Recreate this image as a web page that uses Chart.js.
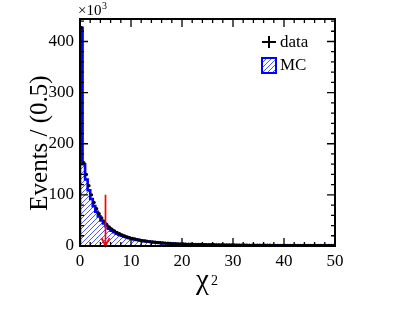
<!DOCTYPE html>
<html>
<head>
<meta charset="utf-8">
<script src="https://cdn.jsdelivr.net/npm/chart.js@4/dist/chart.umd.min.js"></script>
<style>
  html, body { margin: 0; padding: 0; background: #fff; }
  #wrap { width: 399px; height: 309px; }
</style>
</head>
<body>
<div id="wrap"><canvas id="chart" width="399" height="309"></canvas></div>
<script>
// chi2 histogram, bins of 0.5, counts in units of 10^3
const BIN_WIDTH = 0.5;

const DATA_COUNTS = [
  427, 163, 140, 118, 100, 85, 73, 63, 55, 48,
  42, 37, 33, 29.5, 26.5, 24, 21.5, 19.5, 17.8, 16.2,
  14.8, 13.6, 12.5, 11.5, 10.6, 9.8, 9.1, 8.4, 7.8, 7.3,
  6.8, 6.4, 6.0, 5.6, 5.3, 5.0, 4.7, 4.5, 4.2, 4.0,
  3.8, 3.6, 3.45, 3.3, 3.15, 3.0, 2.9, 2.8, 2.7, 2.6,
  2.5, 2.42, 2.35, 2.28, 2.2, 2.14, 2.08, 2.02, 1.96, 1.9,
  1.85, 1.8, 1.76, 1.72, 1.68, 1.64, 1.6, 1.56, 1.52, 1.49,
  1.46, 1.43, 1.4, 1.37, 1.34, 1.31, 1.28, 1.26, 1.24, 1.22,
  1.2, 1.18, 1.16, 1.14, 1.12, 1.1, 1.08, 1.06, 1.04, 1.02,
  1.0, 0.98, 0.96, 0.95, 0.94, 0.93, 0.92, 0.91, 0.9, 0.89
];

const MC_COUNTS = [
  427, 160, 130, 109, 92, 78, 67, 58, 50, 44,
  38.5, 34, 30, 27, 24.2, 22, 20, 18.2, 16.6, 15.2,
  14, 12.9, 11.9, 11, 10.2, 9.5, 8.8, 8.2, 7.6, 7.1,
  6.6, 6.2, 5.8, 5.4, 5.1, 4.8, 4.55, 4.3, 4.05, 3.85,
  3.65, 3.5, 3.35, 3.2, 3.05, 2.92, 2.82, 2.72, 2.62, 2.52,
  2.43, 2.35, 2.28, 2.21, 2.14, 2.08, 2.02, 1.96, 1.9, 1.85,
  1.8, 1.76, 1.72, 1.68, 1.64, 1.6, 1.56, 1.52, 1.49, 1.46,
  1.43, 1.4, 1.37, 1.34, 1.31, 1.28, 1.26, 1.24, 1.22, 1.2,
  1.18, 1.16, 1.14, 1.12, 1.1, 1.08, 1.06, 1.04, 1.02, 1.0,
  0.98, 0.96, 0.95, 0.94, 0.93, 0.92, 0.91, 0.9, 0.89, 0.88
];

const X_TICKS = [0, 10, 20, 30, 40, 50];
const Y_TICKS = [0, 100, 200, 300, 400];
const X_MIN = 0, X_MAX = 50, Y_MIN = 0, Y_MAX = 444;

// selection cut arrow
const CUT_X = 5;
const CUT_TOP = 100;

const FONT = "'Liberation Serif', 'Times New Roman', serif";
const BLUE = '#0000ff';
Chart.defaults.font.family = FONT;

function hatchPattern() {
  const s = 5;
  const c = document.createElement('canvas');
  c.width = s; c.height = s;
  const g = c.getContext('2d');
  g.strokeStyle = 'rgba(30,50,255,0.9)';
  g.lineWidth = 0.9;
  g.beginPath();
  g.moveTo(0, s); g.lineTo(s, 0);
  g.moveTo(-1, 1); g.lineTo(1, -1);
  g.moveTo(s - 1, s + 1); g.lineTo(s + 1, s - 1);
  g.stroke();
  return document.getElementById('chart').getContext('2d').createPattern(c, 'repeat');
}

const HATCH = hatchPattern();

// step outline of the MC histogram
const mcLine = [{ x: 0, y: 0 }];
MC_COUNTS.forEach((v, i) => mcLine.push({ x: i * BIN_WIDTH, y: v }));
mcLine.push({ x: MC_COUNTS.length * BIN_WIDTH, y: MC_COUNTS[MC_COUNTS.length - 1] });
mcLine.push({ x: MC_COUNTS.length * BIN_WIDTH, y: 0 });

const dataPoints = DATA_COUNTS.map((v, i) => ({ x: (i + 0.5) * BIN_WIDTH, y: v }));

const framePlugin = {
  id: 'rootFrame',
  afterDraw(chart) {
    const { ctx, chartArea: a, scales: { x, y } } = chart;
    ctx.save();

    // cut arrow
    const ax = x.getPixelForValue(CUT_X);
    const y0 = y.getPixelForValue(0);
    const y1 = y.getPixelForValue(CUT_TOP);
    ctx.strokeStyle = '#ff0000';
    ctx.lineWidth = 1.7;
    ctx.beginPath();
    ctx.moveTo(ax, y1); ctx.lineTo(ax, y0);
    ctx.moveTo(ax - 4, y0 - 8); ctx.lineTo(ax, y0); ctx.lineTo(ax + 4, y0 - 8);
    ctx.stroke();

    // ticks, inward on all four sides
    ctx.strokeStyle = '#000';
    ctx.lineWidth = 1.3;
    ctx.beginPath();
    for (let v = X_MIN; v <= X_MAX; v += 2) {
      const px = x.getPixelForValue(v);
      const len = v % 10 === 0 ? 8 : 4;
      ctx.moveTo(px, a.bottom); ctx.lineTo(px, a.bottom - len);
      ctx.moveTo(px, a.top); ctx.lineTo(px, a.top + len);
    }
    for (let v = Y_MIN; v <= Y_MAX; v += 20) {
      const py = y.getPixelForValue(v);
      const len = v % 100 === 0 ? 8 : 4;
      ctx.moveTo(a.left, py); ctx.lineTo(a.left + len, py);
      ctx.moveTo(a.right, py); ctx.lineTo(a.right - len, py);
    }
    ctx.stroke();

    // frame
    ctx.lineWidth = 2;
    ctx.strokeRect(a.left, a.top, a.right - a.left, a.bottom - a.top);

    ctx.fillStyle = '#000';
    ctx.textBaseline = 'alphabetic';
    ctx.textAlign = 'left';

    // exponent label
    ctx.font = '15px ' + FONT;
    ctx.fillText('×10', a.left - 2, a.top - 4);
    const ew = ctx.measureText('×10').width;
    ctx.font = '10px ' + FONT;
    ctx.fillText('3', a.left - 2 + ew + 0.5, a.top - 10);

    // axis titles
    ctx.font = '29px ' + FONT;
    ctx.fillText('χ', 196, 289);
    ctx.font = '14px ' + FONT;
    ctx.fillText('2', 211, 285);

    ctx.save();
    ctx.translate(47, 143);
    ctx.rotate(-Math.PI / 2);
    ctx.textAlign = 'center';
    ctx.font = '25px ' + FONT;
    ctx.fillText('Events / (0.5)', 0, 0);
    ctx.restore();

    // legend
    const lx = a.right - 66;
    ctx.lineWidth = 2;
    ctx.beginPath();
    ctx.moveTo(lx - 7, a.top + 23); ctx.lineTo(lx + 7, a.top + 23);
    ctx.moveTo(lx, a.top + 17); ctx.lineTo(lx, a.top + 29);
    ctx.stroke();
    ctx.font = '17px ' + FONT;
    ctx.textBaseline = 'middle';
    ctx.fillText('data', lx + 11, a.top + 24);

    ctx.fillStyle = HATCH;
    ctx.fillRect(lx - 7, a.top + 39, 14, 15);
    ctx.strokeStyle = BLUE;
    ctx.lineWidth = 2;
    ctx.strokeRect(lx - 7, a.top + 39, 14, 15);
    ctx.fillStyle = '#000';
    ctx.fillText('MC', lx + 11, a.top + 47);

    ctx.restore();
  }
};

new Chart(document.getElementById('chart'), {
  type: 'line',
  data: {
    datasets: [
      {
        label: 'data',
        data: dataPoints,
        showLine: false,
        pointRadius: 1.7,
        pointBackgroundColor: '#000',
        pointBorderWidth: 0,
        order: 0
      },
      {
        label: 'MC',
        data: mcLine,
        stepped: 'before',
        borderColor: BLUE,
        borderWidth: 2.6,
        backgroundColor: HATCH,
        fill: 'origin',
        pointRadius: 0,
        tension: 0,
        order: 1
      }
    ]
  },
  options: {
    responsive: false,
    animation: false,
    devicePixelRatio: 1,
    layout: { padding: { left: 0, right: 64, top: 19, bottom: 0 } },
    plugins: { legend: { display: false }, tooltip: { enabled: false } },
    scales: {
      x: {
        type: 'linear',
        min: X_MIN,
        max: X_MAX,
        grid: { display: false, drawTicks: false },
        border: { display: false },
        afterBuildTicks: s => { s.ticks = X_TICKS.map(v => ({ value: v })); },
        afterFit: s => { s.height = 63; },
        ticks: { padding: 5, color: '#000', autoSkip: false, maxRotation: 0, font: { family: FONT, size: 17 } }
      },
      y: {
        type: 'linear',
        min: Y_MIN,
        max: Y_MAX,
        grid: { display: false, drawTicks: false },
        border: { display: false },
        afterBuildTicks: s => { s.ticks = Y_TICKS.map(v => ({ value: v })); },
        afterFit: s => { s.width = 80; },
        ticks: { padding: 6, color: '#000', font: { family: FONT, size: 17 } }
      }
    }
  },
  plugins: [framePlugin]
});
</script>
</body>
</html>
